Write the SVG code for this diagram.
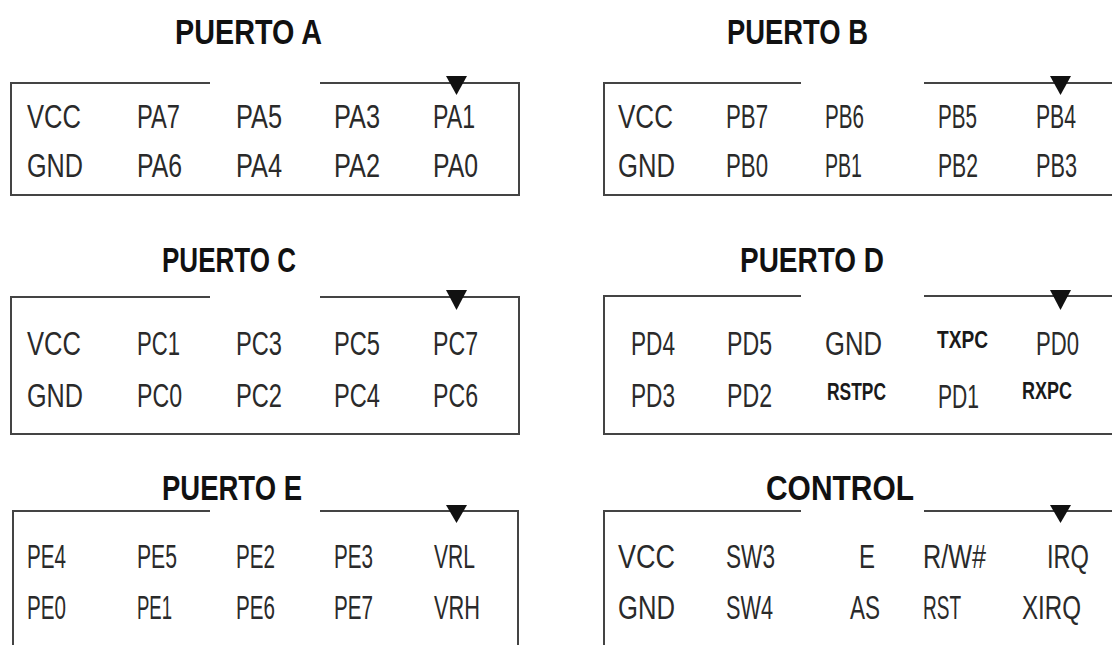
<svg xmlns="http://www.w3.org/2000/svg" width="1112" height="645" viewBox="0 0 1112 645">
<style>
.t{font-family:"Liberation Sans",Arial,sans-serif;font-weight:bold;font-size:35px;fill:#111;}
.l{font-family:"Liberation Sans",Arial,sans-serif;font-size:33px;fill:#2a2a2a;}
.b{font-family:"Liberation Sans",Arial,sans-serif;font-weight:bold;font-size:24px;fill:#1a1a1a;}
.ln{fill:none;stroke:#444;stroke-width:2;}
.ar{fill:#111;}
</style>
<rect width="1112" height="645" fill="#fff"/>

<g id="puerto-a">
<text class="t" x="175" y="44" textLength="147" lengthAdjust="spacingAndGlyphs">PUERTO A</text>
<path class="ln" d="M210,83 H11 V195 H519 V83 H320"/>
<polygon class="ar" points="446,76 467,76 456.5,95"/>
<text class="l" x="27" y="128" textLength="54" lengthAdjust="spacingAndGlyphs">VCC</text>
<text class="l" x="137" y="128" textLength="43" lengthAdjust="spacingAndGlyphs">PA7</text>
<text class="l" x="236" y="128" textLength="46" lengthAdjust="spacingAndGlyphs">PA5</text>
<text class="l" x="334" y="128" textLength="46" lengthAdjust="spacingAndGlyphs">PA3</text>
<text class="l" x="433" y="128" textLength="42" lengthAdjust="spacingAndGlyphs">PA1</text>
<text class="l" x="27" y="177" textLength="56" lengthAdjust="spacingAndGlyphs">GND</text>
<text class="l" x="137" y="177" textLength="45" lengthAdjust="spacingAndGlyphs">PA6</text>
<text class="l" x="236" y="177" textLength="46" lengthAdjust="spacingAndGlyphs">PA4</text>
<text class="l" x="334" y="177" textLength="46" lengthAdjust="spacingAndGlyphs">PA2</text>
<text class="l" x="433" y="177" textLength="45" lengthAdjust="spacingAndGlyphs">PA0</text>
</g>

<g id="puerto-b">
<text class="t" x="727" y="44" textLength="141" lengthAdjust="spacingAndGlyphs">PUERTO B</text>
<path class="ln" d="M801,83 H604 V195 H1115"/>
<path class="ln" d="M924,83 H1115"/>
<polygon class="ar" points="1050,76 1071,76 1060.5,95"/>
<text class="l" x="618" y="128" textLength="55" lengthAdjust="spacingAndGlyphs">VCC</text>
<text class="l" x="726" y="128" textLength="42" lengthAdjust="spacingAndGlyphs">PB7</text>
<text class="l" x="825" y="128" textLength="39" lengthAdjust="spacingAndGlyphs">PB6</text>
<text class="l" x="938" y="128" textLength="39" lengthAdjust="spacingAndGlyphs">PB5</text>
<text class="l" x="1036" y="128" textLength="40" lengthAdjust="spacingAndGlyphs">PB4</text>
<text class="l" x="618" y="177" textLength="57" lengthAdjust="spacingAndGlyphs">GND</text>
<text class="l" x="726" y="177" textLength="42" lengthAdjust="spacingAndGlyphs">PB0</text>
<text class="l" x="825" y="177" textLength="37" lengthAdjust="spacingAndGlyphs">PB1</text>
<text class="l" x="938" y="177" textLength="40" lengthAdjust="spacingAndGlyphs">PB2</text>
<text class="l" x="1036" y="177" textLength="41" lengthAdjust="spacingAndGlyphs">PB3</text>
</g>

<g id="puerto-c">
<text class="t" x="162" y="272" textLength="134" lengthAdjust="spacingAndGlyphs">PUERTO C</text>
<path class="ln" d="M210,297 H11 V434 H519 V297 H320"/>
<polygon class="ar" points="446,290 467,290 456.5,310"/>
<text class="l" x="27" y="355" textLength="54" lengthAdjust="spacingAndGlyphs">VCC</text>
<text class="l" x="137" y="355" textLength="43" lengthAdjust="spacingAndGlyphs">PC1</text>
<text class="l" x="236" y="355" textLength="46" lengthAdjust="spacingAndGlyphs">PC3</text>
<text class="l" x="334" y="355" textLength="46" lengthAdjust="spacingAndGlyphs">PC5</text>
<text class="l" x="433" y="355" textLength="45" lengthAdjust="spacingAndGlyphs">PC7</text>
<text class="l" x="27" y="407" textLength="56" lengthAdjust="spacingAndGlyphs">GND</text>
<text class="l" x="137" y="407" textLength="45" lengthAdjust="spacingAndGlyphs">PC0</text>
<text class="l" x="236" y="407" textLength="46" lengthAdjust="spacingAndGlyphs">PC2</text>
<text class="l" x="334" y="407" textLength="46" lengthAdjust="spacingAndGlyphs">PC4</text>
<text class="l" x="433" y="407" textLength="45" lengthAdjust="spacingAndGlyphs">PC6</text>
</g>

<g id="puerto-d">
<text class="t" x="740" y="272" textLength="144" lengthAdjust="spacingAndGlyphs">PUERTO D</text>
<path class="ln" d="M801,296 H604 V434 H1115"/>
<path class="ln" d="M924,296 H1115"/>
<polygon class="ar" points="1050,290 1071,290 1060.5,310"/>
<text class="l" x="631" y="355" textLength="44" lengthAdjust="spacingAndGlyphs">PD4</text>
<text class="l" x="727" y="355" textLength="45" lengthAdjust="spacingAndGlyphs">PD5</text>
<text class="l" x="825" y="355" textLength="57" lengthAdjust="spacingAndGlyphs">GND</text>
<text class="b" x="937" y="348" textLength="51" lengthAdjust="spacingAndGlyphs">TXPC</text>
<text class="l" x="1036" y="355" textLength="43" lengthAdjust="spacingAndGlyphs">PD0</text>
<text class="l" x="631" y="407" textLength="44" lengthAdjust="spacingAndGlyphs">PD3</text>
<text class="l" x="727" y="407" textLength="45" lengthAdjust="spacingAndGlyphs">PD2</text>
<text class="b" x="827" y="400" textLength="59" lengthAdjust="spacingAndGlyphs">RSTPC</text>
<text class="l" x="938" y="408" textLength="41" lengthAdjust="spacingAndGlyphs">PD1</text>
<text class="b" x="1022" y="399" textLength="50" lengthAdjust="spacingAndGlyphs">RXPC</text>
</g>

<g id="puerto-e">
<text class="t" x="162" y="500" textLength="140" lengthAdjust="spacingAndGlyphs">PUERTO E</text>
<path class="ln" d="M210,511 H13 V648"/>
<path class="ln" d="M320,511 H518 V648"/>
<polygon class="ar" points="446,505 467,505 456.5,523"/>
<text class="l" x="27" y="568" textLength="39" lengthAdjust="spacingAndGlyphs">PE4</text>
<text class="l" x="137" y="568" textLength="40" lengthAdjust="spacingAndGlyphs">PE5</text>
<text class="l" x="236" y="568" textLength="39" lengthAdjust="spacingAndGlyphs">PE2</text>
<text class="l" x="334" y="568" textLength="39" lengthAdjust="spacingAndGlyphs">PE3</text>
<text class="l" x="434" y="568" textLength="41" lengthAdjust="spacingAndGlyphs">VRL</text>
<text class="l" x="27" y="619" textLength="39" lengthAdjust="spacingAndGlyphs">PE0</text>
<text class="l" x="137" y="619" textLength="35" lengthAdjust="spacingAndGlyphs">PE1</text>
<text class="l" x="236" y="619" textLength="39" lengthAdjust="spacingAndGlyphs">PE6</text>
<text class="l" x="334" y="619" textLength="39" lengthAdjust="spacingAndGlyphs">PE7</text>
<text class="l" x="434" y="619" textLength="46" lengthAdjust="spacingAndGlyphs">VRH</text>
</g>

<g id="control">
<text class="t" x="766" y="500" textLength="148" lengthAdjust="spacingAndGlyphs">CONTROL</text>
<path class="ln" d="M801,511 H604 V648"/>
<path class="ln" d="M924,511 H1115"/>
<polygon class="ar" points="1050,505 1071,505 1060.5,523"/>
<text class="l" x="618" y="568" textLength="57" lengthAdjust="spacingAndGlyphs">VCC</text>
<text class="l" x="726" y="568" textLength="49" lengthAdjust="spacingAndGlyphs">SW3</text>
<text class="l" x="859" y="568" textLength="16" lengthAdjust="spacingAndGlyphs">E</text>
<text class="l" x="923" y="568" textLength="63" lengthAdjust="spacingAndGlyphs">R/W#</text>
<text class="l" x="1047" y="568" textLength="42" lengthAdjust="spacingAndGlyphs">IRQ</text>
<text class="l" x="618" y="619" textLength="57" lengthAdjust="spacingAndGlyphs">GND</text>
<text class="l" x="726" y="619" textLength="47" lengthAdjust="spacingAndGlyphs">SW4</text>
<text class="l" x="850" y="619" textLength="30" lengthAdjust="spacingAndGlyphs">AS</text>
<text class="l" x="923" y="619" textLength="38" lengthAdjust="spacingAndGlyphs">RST</text>
<text class="l" x="1022" y="619" textLength="59" lengthAdjust="spacingAndGlyphs">XIRQ</text>
</g>
</svg>
